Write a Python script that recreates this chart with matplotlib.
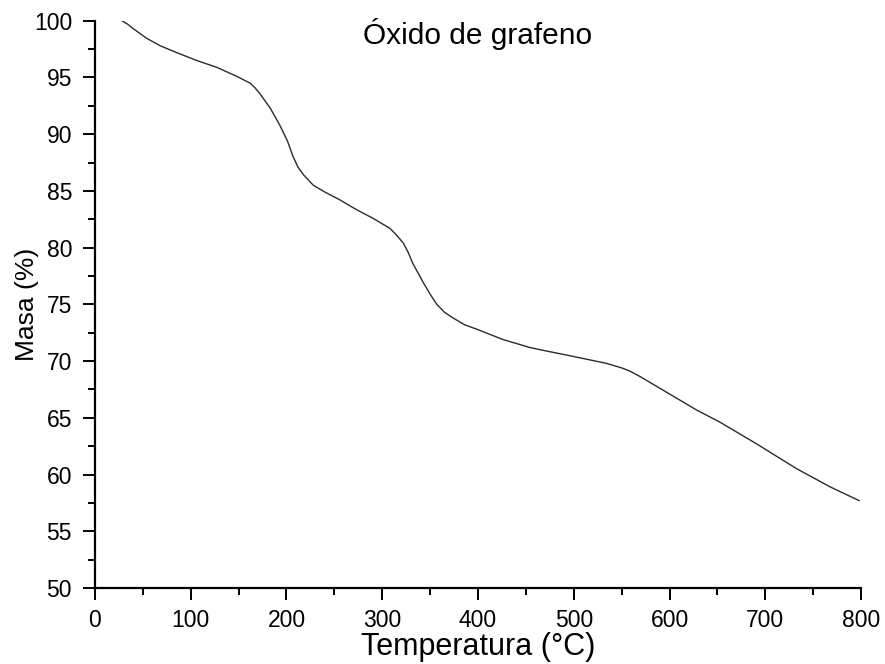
import matplotlib
matplotlib.use("Agg")
import matplotlib.pyplot as plt
from matplotlib.ticker import MultipleLocator

# TGA curve
temp = [28, 34, 40, 54, 68, 85, 106, 127, 148, 162, 167, 172, 183, 193, 201,
        207, 212, 218, 228, 240, 256, 272, 290, 308, 315, 322, 327, 332, 343,
        350, 357, 365, 374, 386, 399, 426, 454, 465, 500, 534, 550, 559, 570,
        580, 604, 628, 653, 691, 733, 768, 798]
mass = [100.0, 99.7, 99.3, 98.45, 97.8, 97.2, 96.5, 95.9, 95.1, 94.5, 94.1,
        93.6, 92.3, 90.8, 89.4, 88.0, 87.1, 86.4, 85.5, 84.9, 84.2, 83.4,
        82.6, 81.7, 81.1, 80.4, 79.6, 78.6, 76.9, 75.9, 75.0, 74.3, 73.8,
        73.2, 72.8, 71.9, 71.2, 71.0, 70.4, 69.8, 69.4, 69.1, 68.6, 68.1,
        66.9, 65.7, 64.6, 62.7, 60.5, 58.9, 57.7]

title = "Óxido de grafeno"
xlabel = "Temperatura (°C)"
ylabel = "Masa (%)"

plt.rcParams["font.family"] = ["Liberation Sans", "DejaVu Sans"]

fig = plt.figure(figsize=(8.85, 6.64), dpi=100)
ax = fig.add_axes([0.1073, 0.1145, 0.8656, 0.8543])

ax.plot(temp, mass, color="#2b2b2b", linewidth=1.0)

ax.set_xlim(0, 800)
ax.set_ylim(50, 100)
ax.xaxis.set_major_locator(MultipleLocator(100))
ax.xaxis.set_minor_locator(MultipleLocator(50))
ax.yaxis.set_major_locator(MultipleLocator(5))
ax.yaxis.set_minor_locator(MultipleLocator(2.5))

for side in ("top", "right"):
    ax.spines[side].set_visible(False)
for side in ("left", "bottom"):
    ax.spines[side].set_linewidth(1.6)

ax.tick_params(which="major", direction="out", length=8.5, width=1.4,
               labelsize=16.5)
ax.tick_params(which="minor", direction="out", length=4.8, width=1.4)
ax.tick_params(axis="x", which="major", pad=6.8)
ax.tick_params(axis="y", which="major", pad=8)

ax.set_xlabel(xlabel, fontsize=22, labelpad=0)
ax.set_ylabel(ylabel, fontsize=19, labelpad=-4)

ax.text(0.5, 0.977, title, transform=ax.transAxes, ha="center", va="center",
        fontsize=21.5)

fig.savefig("out.png", dpi=100, facecolor="white")
